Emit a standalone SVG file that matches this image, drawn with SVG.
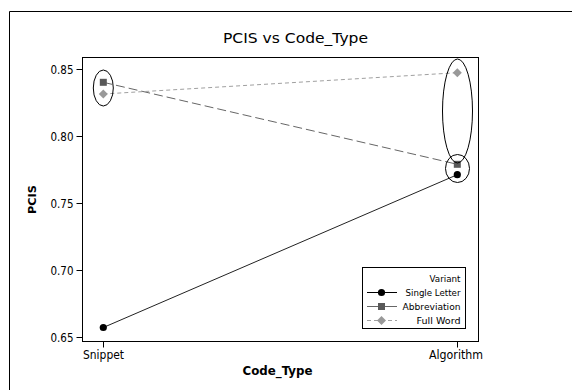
<svg xmlns="http://www.w3.org/2000/svg" width="572" height="390" viewBox="0 0 572 390">
<style>
text{font-family:"DejaVu Sans","Liberation Sans",sans-serif;fill:#000}
.tick{font-size:12px}
.leg{font-size:9.5px}
.ax{stroke:#000;stroke-width:1;fill:none}
.ell{stroke:#000;stroke-width:1;fill:none}
.single{stroke:#222;stroke-width:1;fill:none}
.abbr{stroke:#666;stroke-width:1;fill:none;stroke-dasharray:9 4}
.full{stroke:#a0a0a0;stroke-width:1;fill:none;stroke-dasharray:4 3}
</style>
<defs>
<circle id="mc" r="3.6" fill="#000"/>
<rect id="ms" x="-3.5" y="-3.5" width="7" height="7" fill="#595959"/>
<path id="md" d="M0,-4.5 L4.5,0 L0,4.5 L-4.5,0 Z" fill="#999"/>
</defs>
<rect width="572" height="390" fill="#fff"/>
<g id="frame"><path class="ax" d="M9.5,390 V11.5 H572"/></g>
<text id="title" x="295.5" y="43" font-size="14" text-anchor="middle" textLength="145" lengthAdjust="spacingAndGlyphs">PCIS vs Code_Type</text>
<g id="plot-area"><rect class="ax" x="82.5" y="57.5" width="396" height="284"/></g>
<g id="y-axis">
<path class="ax" d="M76.5,337.5 H82.5 M76.5,270.5 H82.5 M76.5,203.5 H82.5 M76.5,136.5 H82.5 M76.5,69.5 H82.5"/>
<g class="tick" text-anchor="end">
<text x="73.5" y="341.5" textLength="23" lengthAdjust="spacingAndGlyphs">0.65</text>
<text x="73.5" y="274.5" textLength="23" lengthAdjust="spacingAndGlyphs">0.70</text>
<text x="73.5" y="207.5" textLength="23" lengthAdjust="spacingAndGlyphs">0.75</text>
<text x="73.5" y="140.5" textLength="23" lengthAdjust="spacingAndGlyphs">0.80</text>
<text x="73.5" y="73.5" textLength="23" lengthAdjust="spacingAndGlyphs">0.85</text>
</g>
<text transform="translate(35.5,199.5) rotate(-90)" font-size="11" font-weight="bold" text-anchor="middle" textLength="29" lengthAdjust="spacingAndGlyphs">PCIS</text>
</g>
<g id="x-axis">
<path class="ax" d="M103.5,341.5 V347.5 M457.5,341.5 V347.5"/>
<text class="tick" x="103.5" y="359" text-anchor="middle" textLength="41" lengthAdjust="spacingAndGlyphs">Snippet</text>
<text class="tick" x="456" y="359" text-anchor="middle" textLength="54" lengthAdjust="spacingAndGlyphs">Algorithm</text>
<text x="277.5" y="375" font-size="11.5" font-weight="bold" text-anchor="middle" textLength="70" lengthAdjust="spacingAndGlyphs">Code_Type</text>
</g>
<g id="connectors">
<line class="single" x1="103.3" y1="327.5" x2="457.3" y2="174.7"/>
<line class="abbr" x1="103.3" y1="82.3" x2="457.3" y2="164.3"/>
<line class="full" x1="103.3" y1="94" x2="457.3" y2="72.7"/>
</g>
<g id="single-letter">
<use href="#mc" x="103.3" y="327.5"/>
<use href="#mc" x="457.3" y="174.7"/>
</g>
<g id="abbreviation">
<use href="#ms" x="103.3" y="82.3"/>
<use href="#ms" x="457.3" y="164.3"/>
</g>
<g id="full-word">
<use href="#md" x="103.3" y="94"/>
<use href="#md" x="457.3" y="72.7"/>
</g>
<g id="highlights">
<ellipse class="ell" cx="103.3" cy="88" rx="10" ry="18"/>
<ellipse class="ell" cx="457.5" cy="111" rx="15" ry="52"/>
<ellipse class="ell" cx="457.5" cy="168.5" rx="12" ry="14"/>
</g>
<g id="legend">
<rect x="362.5" y="267.5" width="103" height="61" fill="#fff" stroke="#000"/>
<g class="leg" text-anchor="end">
<text x="460.5" y="282" textLength="31" lengthAdjust="spacingAndGlyphs">Variant</text>
<text x="460.5" y="296" textLength="55" lengthAdjust="spacingAndGlyphs">Single Letter</text>
<text x="460.5" y="310" textLength="58" lengthAdjust="spacingAndGlyphs">Abbreviation</text>
<text x="460.5" y="324" textLength="44" lengthAdjust="spacingAndGlyphs">Full Word</text>
</g>
<line x1="367" y1="292.5" x2="397" y2="292.5" stroke="#000"/>
<use href="#mc" x="381.5" y="292.5"/>
<line x1="367" y1="306.5" x2="397" y2="306.5" stroke="#666"/>
<use href="#ms" x="381.5" y="306.5"/>
<line x1="367" y1="320.5" x2="397" y2="320.5" stroke="#a0a0a0" stroke-dasharray="4 3"/>
<use href="#md" x="381.5" y="320.5"/>
</g>
</svg>
